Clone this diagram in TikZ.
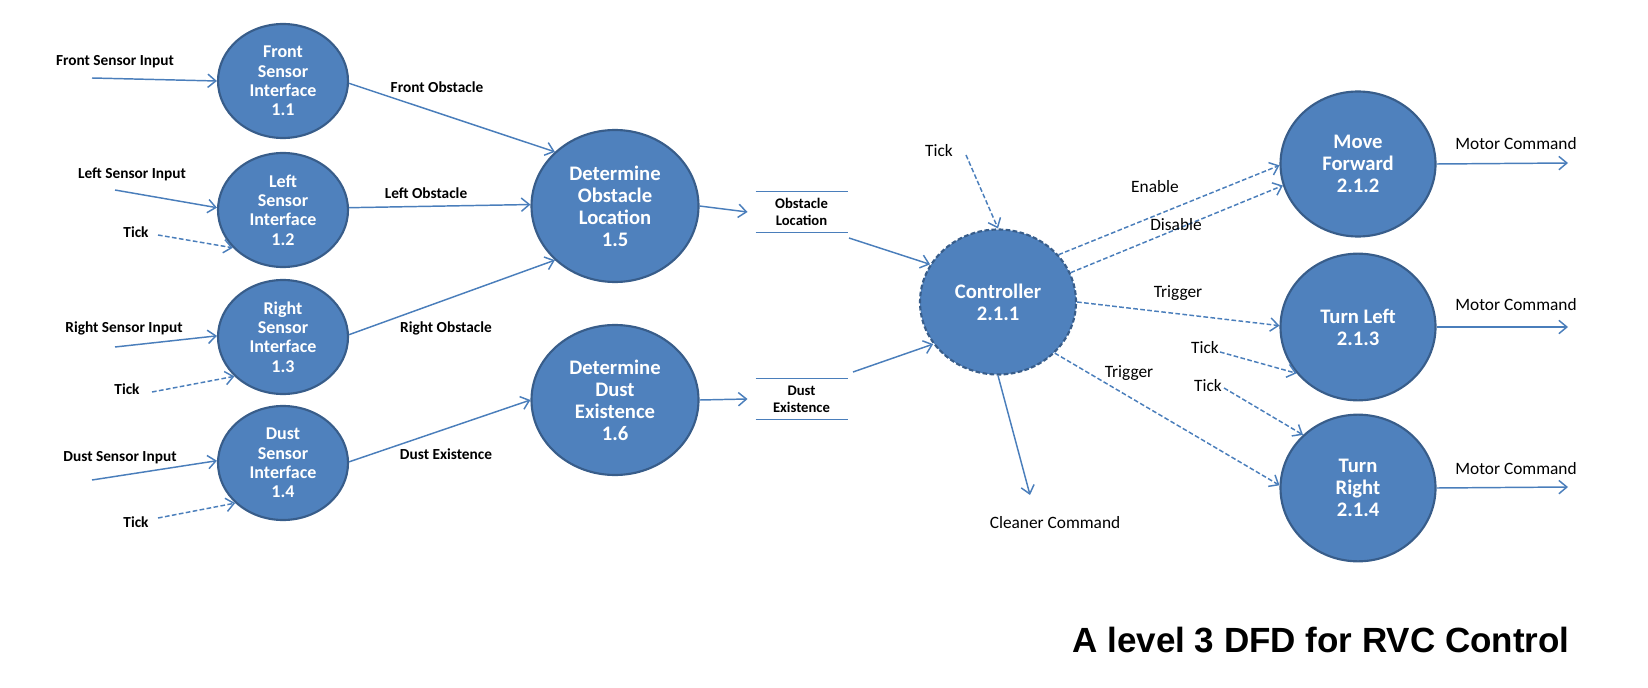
\documentclass[tikz,border=0pt]{standalone}
\usepackage{fontspec}
\setmainfont{Carlito}
\newfontfamily\titlefont{Liberation Sans}
\usetikzlibrary{shapes.geometric,arrows.meta}

\definecolor{procfill}{RGB}{79,129,189}
\definecolor{procline}{RGB}{56,93,138}
\definecolor{flowline}{RGB}{74,126,187}

\tikzset{every picture/.style={line width=0.75pt}}
\tikzset{
  proc/.style={ellipse, draw=procline, line width=1.6pt, fill=procfill, text=white, align=center, inner sep=0pt, font=\fontsize{15.5}{16.5}\selectfont\bfseries},
  iface/.style={proc, minimum width=97.5pt, minimum height=85.5pt, font=\fontsize{13.5}{14.5}\selectfont\bfseries},
  flow/.style={draw=flowline, line width=1.1pt, -{Straight Barb[length=6pt,width=10pt]}},
  ctl/.style={flow, dash pattern=on 3.5pt off 1.8pt},
  lbl/.style={inner sep=0pt, font=\fontsize{11.5}{13}\selectfont\bfseries},
  lblb/.style={inner sep=0pt, font=\fontsize{13}{15}\selectfont},
  store/.style={inner sep=0pt, minimum width=68.25pt, minimum height=30pt, align=center, font=\fontsize{11}{12.75}\selectfont\bfseries}
}

\begin{document}
\begin{tikzpicture}[x=0.75pt,y=0.75pt,yscale=-1,xscale=1]
\useasboundingbox (0,0) rectangle (1648,688);

%Shape: Ellipse 1.1 to 1.4
\node [iface] (fsi) at (283,81) {Front\\Sensor\\Interface\\1.1};
\node [iface] (lsi) at (283,210) {Left\\Sensor\\Interface\\1.2};
\node [iface] (rsi) at (283,337) {Right\\Sensor\\Interface\\1.3};
\node [iface] (dsi) at (283,463) {Dust\\Sensor\\Interface\\1.4};
%Shape: Ellipse 1.5 and 1.6
\node [proc, minimum width=125.25pt, minimum height=114pt] (dol) at (615,206) {Determine\\Obstacle\\Location\\1.5};
\node [proc, minimum width=125.25pt, minimum height=112.5pt] (dde) at (615,400) {Determine\\Dust\\Existence\\1.6};
%Shape: Ellipse controller
\node [proc, minimum width=117pt, minimum height=108.75pt, dash pattern=on 3.5pt off 1.8pt] (ctrl) at (998,302) {Controller\\2.1.1};
%Shape: Ellipse 2.1.2 to 2.1.4
\node [proc, minimum width=116.25pt, minimum height=108.75pt] (mf) at (1358,164) {Move\\Forward\\2.1.2};
\node [proc, minimum width=116.25pt, minimum height=110pt] (tl) at (1358,327) {Turn Left\\2.1.3};
\node [proc, minimum width=116.25pt, minimum height=110pt] (tr) at (1358,488) {Turn\\Right\\2.1.4};

%Data stores
\node [store] (ols) at (801.5,212) {Obstacle\\Location};
\node [store] (des) at (801.5,399) {Dust\\Existence};
\draw [flowline, line width=1.1pt] (ols.north west) -- (ols.north east) (ols.south west) -- (ols.south east);
\draw [flowline, line width=1.1pt] (des.north west) -- (des.north east) (des.south west) -- (des.south east);

%Free ends
\coordinate (fsiIn) at (92,78);
\coordinate (lsiIn) at (115,190);
\coordinate (lsiTick) at (158,235);
\coordinate (rsiIn) at (115,347);
\coordinate (rsiTick) at (152,392);
\coordinate (dsiIn) at (92,480);
\coordinate (dsiTick) at (158,518);
\coordinate (olsOut) at (849,238);
\coordinate (desOut) at (853,372);
\coordinate (ctrlTick) at (966,155);
\coordinate (cleanOut) at (1030,495);
\coordinate (tlTick) at (1220,352);
\coordinate (trTick) at (1224,388);
\coordinate (mfOut) at (1568,163);
\coordinate (tlOut) at (1568,327);
\coordinate (trOut) at (1568,487);

%Straight Lines inputs
\draw [flow] (fsiIn) -- (fsi.180);
\draw [flow] (lsiIn) -- (lsi.178);
\draw [ctl] (lsiTick) -- (lsi.217);
\draw [flow] (rsiIn) -- (rsi.179);
\draw [ctl] (rsiTick) -- (rsi.219);
\draw [flow] (dsiIn) -- (dsi.178);
\draw [ctl] (dsiTick) -- (dsi.220);
%Straight Lines sensors to 1.5 and 1.6
\draw [flow] (fsi.358) -- (dol.138);
\draw [flow] (lsi.2) -- (dol.179);
\draw [flow] (rsi.2) -- (dol.222);
\draw [flow] (dsi.1) -- (dde.180);
%Straight Lines to stores and controller
\draw [flow] (dol.east) -- ([xshift=-6pt]ols.west);
\draw [flow] (dde.east) -- ([xshift=-6pt]des.west);
\draw [flow] (olsOut) -- (ctrl.151);
\draw [flow] (desOut) -- (ctrl.213);
\draw [ctl] (ctrlTick) -- (ctrl.north);
\draw [flow] (ctrl.south) -- (cleanOut);
%Straight Lines controller to motions
\draw [ctl] (ctrl.38) -- (mf.181);
\draw [ctl] (ctrl.22) -- (mf.196);
\draw [ctl] (ctrl.east) -- (tl.179);
\draw [ctl] (ctrl.318) -- (tr.178);
\draw [ctl] (tlTick) -- (tl.217);
\draw [ctl] (trTick) -- (tr.136);
\draw [flow] (mf.east) -- (mfOut);
\draw [flow] (tl.east) -- (tlOut);
\draw [flow] (tr.east) -- (trOut);

% Text Node
\node [lbl] (fsiInLbl) at (115,62) {Front Sensor Input};
\node [lbl] (lsiInLbl) at (132,174) {Left Sensor Input};
\node [lbl] (lsiTickLbl) at (136,232) {Tick};
\node [lbl] (rsiInLbl) at (124,328) {Right Sensor Input};
\node [lbl] (rsiTickLbl) at (127,389) {Tick};
\node [lbl] (dsiInLbl) at (120,458) {Dust Sensor Input};
\node [lbl] (dsiTickLbl) at (136,522) {Tick};
\node [lbl] (fobLbl) at (437,87) {Front Obstacle};
\node [lbl] (lobLbl) at (426,193) {Left Obstacle};
\node [lbl] (robLbl) at (446,328) {Right Obstacle};
\node [lbl] (dexLbl) at (446,454) {Dust Existence};
% Text Node
\node [lblb] (ctrlTickLbl) at (939,151) {Tick};
\node [lblb] (cleanLbl) at (1055,523) {Cleaner Command};
\node [lblb] (enLbl) at (1155,187) {Enable};
\node [lblb] (disLbl) at (1176,225) {Disable};
\node [lblb] (trgLLbl) at (1178,293) {Trigger};
\node [lblb] (trgRLbl) at (1129,373) {Trigger};
\node [lblb] (tlTickLbl) at (1205,348) {Tick};
\node [lblb] (trTickLbl) at (1208,386) {Tick};
\node [lblb] (mfOutLbl) at (1516,144) {Motor Command};
\node [lblb] (tlOutLbl) at (1516,305) {Motor Command};
\node [lblb] (trOutLbl) at (1516,469) {Motor Command};
% Text Node
\node [inner sep=0pt, font={\titlefont\bfseries\fontsize{26.25}{30}\selectfont}] (title) at (1321,640) {A level 3 DFD for RVC Control};

\end{tikzpicture}
\end{document}
